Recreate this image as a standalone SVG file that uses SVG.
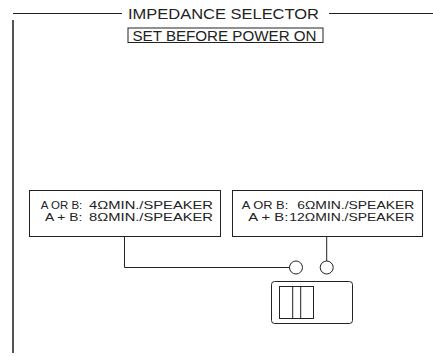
<svg xmlns="http://www.w3.org/2000/svg" width="433" height="357" viewBox="0 0 433 357">
<style>
.ln{stroke:#222;stroke-width:1;fill:none}
.t{font-family:"Liberation Sans",Arial,sans-serif;fill:#222}
.big{font-size:14px}
.sm{font-size:11.5px}
</style>
<rect width="433" height="357" fill="#fff"/>
<g id="title">
<line class="ln" x1="13" y1="13.5" x2="122" y2="13.5"/>
<line class="ln" x1="329" y1="13.5" x2="433" y2="13.5"/>
<text class="t big" x="128" y="19" textLength="191" lengthAdjust="spacingAndGlyphs">IMPEDANCE SELECTOR</text>
<rect class="ln" x="128" y="28" width="195" height="14.5"/>
<text class="t big" x="132.5" y="40.5" textLength="184" lengthAdjust="spacingAndGlyphs">SET BEFORE POWER ON</text>
<line x1="13" y1="20" x2="13" y2="353" stroke="#555" stroke-width="2"/>
</g>
<g id="box-left">
<rect class="ln" x="29.5" y="190.5" width="191" height="46"/>
<text class="t sm" y="208.5"><tspan x="40.7" textLength="41.6" lengthAdjust="spacingAndGlyphs">A OR B:</tspan><tspan x="213" text-anchor="end" textLength="128" lengthAdjust="spacingAndGlyphs"> 4ΩMIN./SPEAKER</tspan></text>
<text class="t sm" y="220.5"><tspan x="45" textLength="37.3" lengthAdjust="spacingAndGlyphs">A + B:</tspan><tspan x="213" text-anchor="end" textLength="128" lengthAdjust="spacingAndGlyphs"> 8ΩMIN./SPEAKER</tspan></text>
</g>
<g id="box-right">
<rect class="ln" x="232.5" y="190.5" width="190" height="46"/>
<text class="t sm" y="208.5"><tspan x="241.7" textLength="46.6" lengthAdjust="spacingAndGlyphs">A OR B:</tspan><tspan x="414.3" text-anchor="end" textLength="121" lengthAdjust="spacingAndGlyphs"> 6ΩMIN./SPEAKER</tspan></text>
<text class="t sm" y="220.5"><tspan x="248.3" textLength="40" lengthAdjust="spacingAndGlyphs">A + B:</tspan><tspan x="414.3" text-anchor="end" textLength="125" lengthAdjust="spacingAndGlyphs">12ΩMIN./SPEAKER</tspan></text>
</g>
<g id="switch">
<circle class="ln" cx="296" cy="267.5" r="6.5"/>
<circle class="ln" cx="326.7" cy="267.5" r="6.5"/>
<rect class="ln" x="271.5" y="281.5" width="81" height="42" rx="3"/>
<rect class="ln" x="279.5" y="286.5" width="34" height="32" stroke-width="1.3"/>
<line class="ln" x1="292.7" y1="286.5" x2="292.7" y2="318.5"/>
<line class="ln" x1="300.7" y1="286.5" x2="300.7" y2="318.5"/>
</g>
<g id="connectors">
<polyline class="ln" points="124.5,237 124.5,267.5 289.5,267.5"/>
<line class="ln" x1="326.7" y1="237" x2="326.7" y2="261"/>
</g>
</svg>
